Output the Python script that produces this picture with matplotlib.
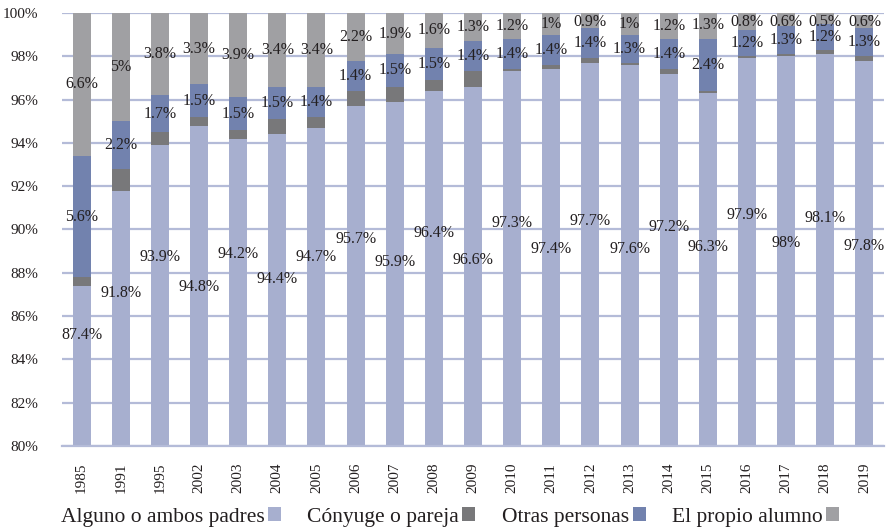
import matplotlib
matplotlib.use("Agg")
import matplotlib.pyplot as plt
from matplotlib.patches import Patch
import numpy as np

years = ["1985", "1991", "1995", "2002", "2003", "2004", "2005", "2006", "2007", "2008",
         "2009", "2010", "2011", "2012", "2013", "2014", "2015", "2016", "2017", "2018", "2019"]
padres = [87.4, 91.8, 93.9, 94.8, 94.2, 94.4, 94.7, 95.7, 95.9, 96.4,
          96.6, 97.3, 97.4, 97.7, 97.6, 97.2, 96.3, 97.9, 98.0, 98.1, 97.8]
conyuge = [0.4, 1.0, 0.6, 0.4, 0.4, 0.7, 0.5, 0.7, 0.7, 0.5,
           0.7, 0.1, 0.2, 0.2, 0.1, 0.2, 0.1, 0.1, 0.1, 0.2, 0.2]
otras = [5.6, 2.2, 1.7, 1.5, 1.5, 1.5, 1.4, 1.4, 1.5, 1.5,
         1.4, 1.4, 1.4, 1.4, 1.3, 1.4, 2.4, 1.2, 1.3, 1.2, 1.3]
alumno = [6.6, 5, 3.8, 3.3, 3.9, 3.4, 3.4, 2.2, 1.9, 1.6,
          1.3, 1.2, 1, 0.9, 1, 1.2, 1.3, 0.8, 0.6, 0.5, 0.6]
series_names = ["Alguno o ambos padres", "Cónyuge o pareja", "Otras personas", "El propio alumno"]

# layout: vertical placement of the bottom-segment labels (manually staggered in the original)
padres_label_y = [85.13, 87.07, 88.73, 87.34, 88.87, 87.71, 88.73, 89.56, 88.50, 89.84,
                  88.59, 90.30, 89.10, 90.39, 89.10, 90.12, 89.19, 90.67, 89.38, 90.53, 89.24]

colors = ["#a7afcf", "#78787a", "#7282ae", "#a0a0a3"]
grid_color = "#b4bbd8"
text_color = "#231f20"

plt.rcParams['font.family'] = ['Liberation Serif', 'DejaVu Serif']

fig = plt.figure(figsize=(8.88, 5.30), dpi=100)
ax = fig.add_axes([62/888, 1 - 446/530, (884 - 62)/888, (446 - 13)/530])

x = np.arange(len(years))
w = 0.46
p = np.array(padres)
c = np.array(conyuge)
o = np.array(otras)
a = np.array(alumno)

ax.bar(x, p, w, bottom=0, color=colors[0], zorder=2)
ax.bar(x, c, w, bottom=p, color=colors[1], zorder=2)
ax.bar(x, o, w, bottom=p + c, color=colors[2], zorder=2)
ax.bar(x, a, w, bottom=p + c + o, color=colors[3], zorder=2)

def fmt(v):
    s = f"{v:.1f}"
    if s.endswith(".0"):
        s = s[:-2]
    return s + "%"

fs = 11.5
for i in range(len(years)):
    ax.text(x[i], padres_label_y[i], fmt(padres[i]), ha="center", va="center",
            fontsize=fs, color=text_color, zorder=5)
    ax.text(x[i], p[i] + c[i] + o[i] / 2, fmt(otras[i]), ha="center", va="center",
            fontsize=fs, color=text_color, zorder=5)
    ax.text(x[i], min(p[i] + c[i] + o[i] + a[i] / 2, 99.6), fmt(alumno[i]), ha="center", va="center",
            fontsize=fs, color=text_color, zorder=5)

ax.set_ylim(80, 100)
ax.set_xlim(-0.5, len(years) - 0.5)
ax.set_yticks(np.arange(80, 101, 2))
ax.set_yticklabels([f"{v}%" for v in range(80, 101, 2)], fontsize=11, color=text_color)
ax.set_xticks(x)
ax.set_xticklabels(years, rotation=90, fontsize=11, color=text_color)
ax.tick_params(axis="both", length=0)
ax.tick_params(axis="y", pad=17)
ax.tick_params(axis="x", pad=12)

ax.yaxis.grid(True, color=grid_color, linewidth=1.6, zorder=1)
ax.set_axisbelow(True)
for s in ["top", "right", "left"]:
    ax.spines[s].set_visible(False)
ax.spines["bottom"].set_color(grid_color)
ax.spines["bottom"].set_linewidth(1.6)

handles = [Patch(facecolor=col, edgecolor="none") for col in colors]
leg = fig.legend(handles, series_names, loc="center", bbox_to_anchor=(450/888, 1 - 517/530),
                 ncol=4, frameon=False, markerfirst=False, fontsize=15.5,
                 handlelength=0.6, handleheight=0.6, handletextpad=0.15, columnspacing=1.25,
                 borderaxespad=0)
for t in leg.get_texts():
    t.set_color(text_color)

fig.savefig("out.png", dpi=100)
